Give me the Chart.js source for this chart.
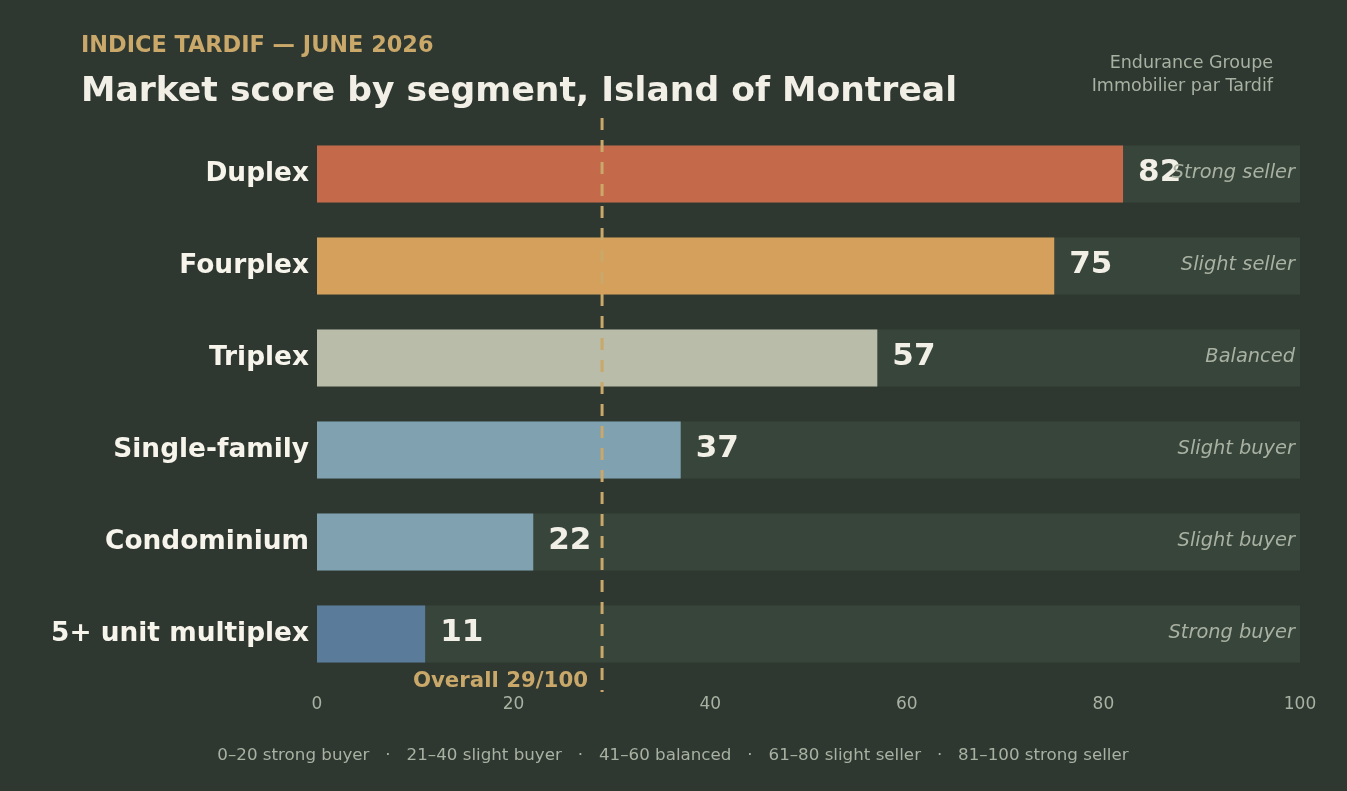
<!DOCTYPE html>
<html>
<head>
<meta charset="utf-8">
<script src="https://cdn.jsdelivr.net/npm/chart.js@4"></script>
<style>
  html, body { margin: 0; padding: 0; background: #2e3830; }
  #wrap { width: 1347px; height: 791px; position: relative; }
</style>
</head>
<body>
<div id="wrap"><canvas id="chart"></canvas></div>
<script>
// data
var segments = ["Duplex", "Fourplex", "Triplex", "Single-family", "Condominium", "5+ unit multiplex"];
var scores = [82, 75, 57, 37, 22, 11];
var statuses = ["Strong seller", "Slight seller", "Balanced", "Slight buyer", "Slight buyer", "Strong buyer"];
var trackMax = [100, 100, 100, 100, 100, 100];
var overallScore = 29;
var xTicks = [0, 20, 40, 60, 80, 100];

var barColors = ["#c4694a", "#d4a05c", "#b9bca8", "#7fa1b0", "#7fa1b0", "#5b7b9b"];
var FONT = "'DejaVu Sans', sans-serif";

var textPlugin = {
    id: 'textPlugin',
    afterDatasetsDraw: function (chart) {
        var ctx = chart.ctx;
        var x = chart.scales.x, y = chart.scales.y;
        ctx.save();

        // value labels + status labels
        for (var i = 0; i < scores.length; i++) {
            var yc = y.getPixelForValue(i);
            ctx.textBaseline = 'middle';
            ctx.textAlign = 'left';
            ctx.fillStyle = '#f2efe6';
            ctx.font = 'bold 31px ' + FONT;
            ctx.fillText(scores[i], x.getPixelForValue(scores[i]) + 15, yc - 1);
            ctx.textAlign = 'right';
            ctx.fillStyle = '#a9b1a2';
            ctx.font = 'italic 19.4px ' + FONT;
            ctx.fillText(statuses[i], x.getPixelForValue(100) - 5, yc - 1);
        }

        // overall dashed line
        var ox = x.getPixelForValue(overallScore);
        ctx.strokeStyle = '#c9a86a';
        ctx.lineWidth = 3;
        ctx.setLineDash([12, 10]);
        ctx.beginPath();
        ctx.moveTo(ox, chart.chartArea.top - 10);
        ctx.lineTo(ox, chart.chartArea.bottom + 12);
        ctx.stroke();
        ctx.setLineDash([]);

        ctx.fillStyle = '#c9a86a';
        ctx.font = 'bold 21.3px ' + FONT;
        ctx.textAlign = 'right';
        ctx.textBaseline = 'middle';
        ctx.fillText('Overall ' + overallScore + '/100', ox - 14, chart.chartArea.bottom + 1);

        // headings
        ctx.textAlign = 'left';
        ctx.textBaseline = 'middle';
        ctx.fillStyle = '#c9a86a';
        ctx.font = 'bold 22.4px ' + FONT;
        ctx.fillText('INDICE TARDIF \u2014 JUNE 2026', 81, 46);
        ctx.fillStyle = '#f2efe6';
        ctx.font = 'bold 34.6px ' + FONT;
        ctx.fillText('Market score by segment, Island of Montreal', 81, 92);

        ctx.textAlign = 'right';
        ctx.fillStyle = '#a9b1a2';
        ctx.font = '17.5px ' + FONT;
        ctx.fillText('Endurance Groupe', 1273, 63);
        ctx.fillText('Immobilier par Tardif', 1273, 86);

        // scale legend
        ctx.textAlign = 'center';
        ctx.font = '16.7px ' + FONT;
        ctx.fillText('0\u201320 strong buyer   \u00b7   21\u201340 slight buyer   \u00b7   41\u201360 balanced   \u00b7   61\u201380 slight seller   \u00b7   81\u2013100 strong seller', 673, 756);
        ctx.restore();
    }
};

new Chart(document.getElementById('chart'), {
    type: 'bar',
    data: {
        labels: segments,
        datasets: [
            {
                data: scores,
                backgroundColor: barColors,
                borderWidth: 0,
                barPercentage: 0.62,
                categoryPercentage: 1,
                grouped: false,
                order: 1
            },
            {
                data: trackMax,
                backgroundColor: '#38453b',
                borderWidth: 0,
                barPercentage: 0.62,
                categoryPercentage: 1,
                grouped: false,
                order: 2
            }
        ]
    },
    options: {
        indexAxis: 'y',
        responsive: true,
        maintainAspectRatio: false,
        animation: false,
        layout: { padding: { top: 128, right: 47, bottom: 61, left: 0 } },
        plugins: { legend: { display: false }, tooltip: { enabled: false } },
        scales: {
            x: {
                min: 0, max: 100,
                afterBuildTicks: function (axis) {
                    axis.ticks = xTicks.map(function (v) { return { value: v }; });
                },
                grid: { display: false, drawTicks: false },
                border: { display: false },
                ticks: { color: '#a9b1a2', font: { family: FONT, size: 17 }, padding: 14 },
                afterFit: function (axis) { axis.height = 50; }
            },
            y: {
                grid: { display: false, drawTicks: false },
                border: { display: false },
                ticks: { color: '#f7f4ec', font: { family: FONT, size: 26.4, weight: 'bold' }, padding: 8 },
                afterFit: function (axis) { axis.width = 317; }
            }
        }
    },
    plugins: [textPlugin]
});
</script>
</body>
</html>
